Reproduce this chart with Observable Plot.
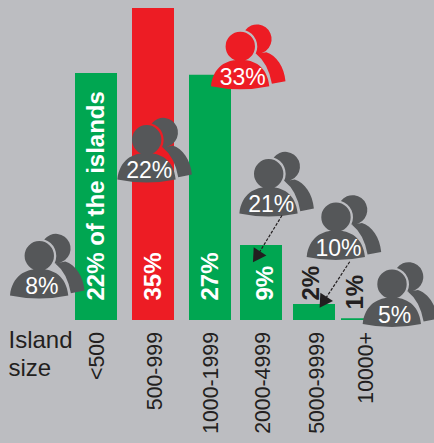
<!DOCTYPE html>
<html>
<head>
<meta charset="utf-8">
<script src="https://cdn.jsdelivr.net/npm/d3@7"></script>
<script src="https://cdn.jsdelivr.net/npm/@observablehq/plot@0.6"></script>
<style>
html,body{margin:0;padding:0;background:#bcbdc1;}
svg{display:block;}
</style>
</head>
<body>
<div id="chart"></div>
<script>
const sizes = ["<500","500-999","1000-1999","2000-4999","5000-9999","10000+"];
const barLengths = [27.7,35,27.5,8.4,1.8,0.2];
const barColors = ["#00a651","#ed1c24","#00a651","#00a651","#00a651","#00a651"];
const barLabels = ["22% of the islands","35%","27%","9%","2%","1%"];
const barLabelX = [0.01,1.01,2.01,3.08,3.95,4.86];
const barLabelY = [2.24,2.24,2.24,2.24,2.24,1.23];
const barLabelColors = ["#fff","#fff","#fff","#fff","#231f20","#231f20"];
const sizeLabelX = [0.02,1.03,2.02,3.04,4.06,5.08];

const iconLabels = ["8%","22%","33%","21%","10%","5%"];
const iconX = [-0.995,0.889,2.594,3.145,4.458,5.625];
const iconY = [7.26,20.27,30.74,16.46,11.59,4.07];
const iconColors = ["#555759","#555759","#ed1c24","#555759","#555759","#555759"];

const arrowX1 = [3.396,4.744];
const arrowY1 = [11.78,6.59];
const arrowX2 = [2.935,4.215];
const arrowY2 = [7.34,2.25];

const idx = d3.range(sizes.length);

const people = {
  draw(c){
    const r = 14.7, R = 17, bx = 16.6, by = -7.3;
    const d = Math.hypot(bx,by), a = (d*d+r*r-R*R)/(2*d), h = Math.sqrt(r*r-a*a);
    const ux = -bx/d, uy = -by/d, mx = bx+ux*a, my = by+uy*a;
    const p1 = [mx-uy*h, my+ux*h], p2 = [mx+uy*h, my-ux*h];
    const ang = (p,cx,cy)=>Math.atan2(p[1]-cy,p[0]-cx);
    // back head with a bite for the gap around the front head
    c.moveTo(p1[0],p1[1]);
    c.arc(bx,by,r,ang(p1,bx,by),ang(p2,bx,by),false);
    c.arc(0,0,R,ang(p2,0,0),ang(p1,0,0),true);
    c.closePath();
    // front head
    c.moveTo(r,0);
    c.arc(0,0,r,0,2*Math.PI);
    c.closePath();
    // front body
    c.moveTo(-29.3,39.7);
    c.bezierCurveTo(-27,20,-14,13.3,0,13.3);
    c.bezierCurveTo(14,13.3,27,20,29,39.7);
    c.quadraticCurveTo(0,45.8,-29.3,39.7);
    c.closePath();
    // back body
    c.moveTo(16,7.6);
    c.lineTo(26,5.7);
    c.bezierCurveTo(36,9,44,20,45.2,34.7);
    c.lineTo(31.6,37.4);
    c.quadraticCurveTo(28,17,16,7.6);
    c.closePath();
  }
};

const plot = Plot.plot({
  width:434, height:443,
  marginTop:0, marginRight:0, marginBottom:0, marginLeft:0,
  style:{background:"#bcbdc1", fontFamily:"'Liberation Sans',Arial,sans-serif"},
  x:{type:"linear", domain:[0,1,2,3,4,5], range:[95.5,152.5,209.5,260.5,313.5,361.5], axis:null},
  y:{type:"linear", domain:[0,35], range:[320,8], axis:null},
  color:{type:"identity"},
  marks:[
    Plot.ruleX(idx,{x:i=>i, y1:0, y2:i=>barLengths[i], stroke:i=>barColors[i], strokeWidth:42}),
    Plot.text(idx,{x:i=>barLabelX[i], y:i=>barLabelY[i], text:i=>barLabels[i], fill:i=>barLabelColors[i],
      rotate:-90, textAnchor:"start", lineAnchor:"middle", fontWeight:"bold", fontSize:24}),
    Plot.text(idx,{x:i=>sizeLabelX[i], y:0, text:i=>sizes[i], rotate:-90, textAnchor:"end", lineAnchor:"middle",
      dy:11.5, fontSize:21.3, fill:"#231f20"}),
    Plot.text(["Island\nsize"],{frameAnchor:"top-left", dx:8, dy:328, fontSize:24, lineHeight:1.16, fill:"#231f20", textAnchor:"start"}),
    Plot.dot(iconLabels,{x:(d,i)=>iconX[i], y:(d,i)=>iconY[i], symbol:people, r:5, fill:(d,i)=>iconColors[i], stroke:"none"}),
    Plot.link(arrowX1,{x1:(d,i)=>arrowX1[i], y1:(d,i)=>arrowY1[i], x2:(d,i)=>arrowX2[i], y2:(d,i)=>arrowY2[i],
      stroke:"#231f20", strokeWidth:1.2, strokeDasharray:"3 1.5"}),
    Plot.dot(arrowX2,{x:(d,i)=>arrowX2[i], y:(d,i)=>arrowY2[i], symbol:"triangle", r:5.6, rotate:213, fill:"#231f20", stroke:"none"}),
    Plot.text(iconLabels,{x:(d,i)=>iconX[i], y:(d,i)=>iconY[i], text:d=>d, dx:2.5, dy:31, fill:"#fff", fontSize:23, textAnchor:"middle"})
  ]
});
document.getElementById("chart").append(plot);
</script>
</body>
</html>
